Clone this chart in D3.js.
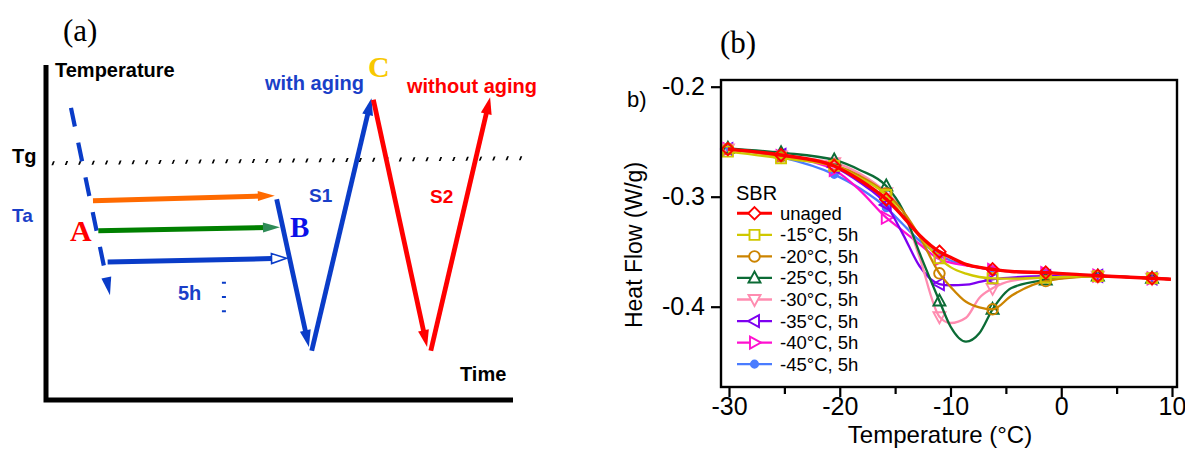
<!DOCTYPE html>
<html><head><meta charset="utf-8">
<script src="https://cdn.jsdelivr.net/npm/d3@7"></script>
<style>body{margin:0;background:#fff}svg{display:block}</style>
</head><body>
<svg id="c" width="1185" height="450"></svg>
<script>
// ================= Panel (b) data =================
const temps = [-30.1,-25.3,-20.5,-18.2,-15.8,-14.3,-12.8,-11.0,-10.0,-8.6,-7.4,-6.2,-4.5,-1.4,3.3,8.2,9.9];
const markerTemps = [-30.1,-25.3,-20.5,-15.8,-11.0,-6.2,-1.4,3.3,8.2];
const seriesNames = ["unaged","-15°C, 5h","-20°C, 5h","-25°C, 5h","-30°C, 5h","-35°C, 5h","-40°C, 5h","-45°C, 5h"];
const seriesColors = ["#ff0000","#cfc800","#cc8400","#0b6b35","#ff8cb0","#7d00f0","#ff10d0","#4a7cff"];
const seriesSymbols = ["diamond","square","circle","triUp","triDown","triLeft","triRight","dot"];
const unaged  = [-0.2567,-0.2621,-0.2721,-0.2848,-0.3024,-0.3180,-0.3350,-0.3500,-0.3551,-0.3615,-0.3642,-0.3660,-0.3680,-0.3690,-0.3718,-0.3742,-0.3750];
const aged15  = [-0.2590,-0.2650,-0.2720,-0.2830,-0.2985,-0.3170,-0.3360,-0.3560,-0.3640,-0.3700,-0.3730,-0.3742,-0.3745,-0.3735,-0.3722,-0.3742,-0.3750];
const aged20  = [-0.2567,-0.2630,-0.2710,-0.2810,-0.2970,-0.3130,-0.3360,-0.3697,-0.3818,-0.3955,-0.4006,-0.4024,-0.3900,-0.3767,-0.3725,-0.3742,-0.3750];
const aged25  = [-0.2560,-0.2600,-0.2666,-0.2757,-0.2903,-0.3120,-0.3510,-0.3948,-0.4180,-0.4318,-0.4242,-0.4024,-0.3830,-0.3757,-0.3722,-0.3742,-0.3750];
const aged30  = [-0.2567,-0.2630,-0.2690,-0.2790,-0.2964,-0.3130,-0.3550,-0.4091,-0.4148,-0.4100,-0.3920,-0.3833,-0.3765,-0.3735,-0.3722,-0.3742,-0.3750];
const aged35  = [-0.2567,-0.2620,-0.2730,-0.2870,-0.3075,-0.3340,-0.3630,-0.3794,-0.3805,-0.3800,-0.3775,-0.3751,-0.3735,-0.3722,-0.3720,-0.3742,-0.3750];
const aged40  = [-0.2567,-0.2630,-0.2757,-0.2940,-0.3191,-0.3310,-0.3430,-0.3569,-0.3600,-0.3625,-0.3645,-0.3665,-0.3680,-0.3695,-0.3718,-0.3742,-0.3750];
const aged45  = [-0.2567,-0.2640,-0.2797,-0.2924,-0.3100,-0.3250,-0.3400,-0.3530,-0.3580,-0.3620,-0.3645,-0.3665,-0.3680,-0.3692,-0.3718,-0.3742,-0.3750];
const seriesValues = [unaged,aged15,aged20,aged25,aged30,aged35,aged40,aged45];
const xTicks = [-30,-25,-20,-15,-10,-5,0,5,10];
const xTickLabels = ["-30","","-20","","-10","","0","","10"];
const yTicks = [-0.2,-0.3,-0.4];
const yTickLabels = ["-0.2","-0.3","-0.4"];

// ================= Panel (a) schematic data (time 0..100, temperature 0..100) =================
const coolingLine = [[5.35,87.2],[13.7,31.3]];
const tgLine = [[0.9,70.7],[102.6,72.2]];
const agingArrows = [
  {color:"#ff6a00", head:"#ff6a00", open:false, pts:[[10.06,59.5],[49.0,61.0]]},
  {color:"#008000", head:"#2e8b57", open:false, pts:[[11.2,50.5],[50.1,51.6]]},
  {color:"#0a3cc8", head:"#ffffff", open:true,  pts:[[13.2,41.2],[51.5,42.3]]}
];
const scanS1 = [[[49.4,59.9],[56.3,15.8]],[[56.9,14.7],[69.7,90.1]]];
const scanS2 = [[[70.1,89.6],[81.6,15.8]],[[82.4,14.7],[95.1,90.4]]];
const fiveHourMarks = [[38.1,35.3],[38.1,25.9]];

// ================= Drawing =================
const svg = d3.select("#c");
const SANS = "'Liberation Sans', Arial, sans-serif";
const SERIF = "'Liberation Serif', 'Times New Roman', serif";

function arrow(g, p0, p1, o) {
  const dx = p1[0]-p0[0], dy = p1[1]-p0[1], L = Math.hypot(dx,dy);
  const ux = dx/L, uy = dy/L, nx = -uy, ny = ux;
  const hl = o.headLen, hw = o.headW/2;
  const bx = p1[0]-ux*hl, by = p1[1]-uy*hl;
  const endShort = o.open ? hl : hl*0.7;
  g.append("line").attr("x1",p0[0]).attr("y1",p0[1])
    .attr("x2",p1[0]-ux*endShort).attr("y2",p1[1]-uy*endShort)
    .attr("stroke",o.color).attr("stroke-width",o.width)
    .attr("stroke-dasharray",o.dash||null);
  g.append("path")
    .attr("d",`M${p1[0]},${p1[1]}L${bx+nx*hw},${by+ny*hw}L${bx-nx*hw},${by-ny*hw}Z`)
    .attr("fill",o.headFill).attr("stroke",o.headStroke||"none").attr("stroke-width",o.headStrokeW||0);
}

// ---------- Panel (a) ----------
const xa = d3.scaleLinear().domain([0,100]).range([46,513]);
const ya = d3.scaleLinear().domain([0,100]).range([400,65]);
const pa = p => [xa(p[0]), ya(p[1])];
const ga = svg.append("g");

ga.append("path")
  .attr("d",d3.line()([[xa(0),ya(100)],[xa(0),ya(0)],[xa(100),ya(0)]]))
  .attr("fill","none").attr("stroke","#000").attr("stroke-width",5).attr("stroke-linejoin","miter");

// Tg dotted line (small slanted ticks)
const t0 = pa(tgLine[0]), t1 = pa(tgLine[1]);
ga.append("g").attr("transform",`translate(0,${t0[1]}) skewX(-22)`)
  .append("line").attr("x1",t0[0]+2).attr("y1",0).attr("x2",t1[0]).attr("y2",t1[1]-t0[1])
  .attr("stroke","#000").attr("stroke-width",4).attr("stroke-dasharray","1.8,11.5");

// cooling dashed line
arrow(ga, pa(coolingLine[0]), pa(coolingLine[1]),
  {color:"#0a3cc8", width:4.2, dash:"19,16.5", headLen:18, headW:10, headFill:"#0a3cc8"});

// aging arrows
agingArrows.forEach(a => {
  arrow(ga, pa(a.pts[0]), pa(a.pts[1]),
    {color:a.color, width:5, headLen:a.open?15:17, headW:10, open:a.open,
     headFill:a.head, headStroke:a.open?a.color:null, headStrokeW:1.6});
});

// S1 and S2 scans
scanS1.forEach(s => arrow(ga, pa(s[0]), pa(s[1]), {color:"#0a3cc8", width:4.8, headLen:17, headW:11, headFill:"#0a3cc8"}));
scanS2.forEach(s => arrow(ga, pa(s[0]), pa(s[1]), {color:"#ff0000", width:4.8, headLen:17, headW:11, headFill:"#ff0000"}));

// 5h small dashes
ga.append("line").attr("x1",xa(fiveHourMarks[0][0])).attr("y1",ya(fiveHourMarks[0][1]))
  .attr("x2",xa(fiveHourMarks[1][0])).attr("y2",ya(fiveHourMarks[1][1]))
  .attr("stroke","#0a3cc8").attr("stroke-width",4).attr("stroke-dasharray","2,12.3");

const labelsA = [
  {t:"(a)", x:63, y:41, f:SERIF, s:31, w:"normal", c:"#000"},
  {t:"Temperature", x:55, y:77, f:SANS, s:20, w:"bold", c:"#000"},
  {t:"Tg", x:12, y:163, f:SANS, s:20, w:"bold", c:"#000"},
  {t:"Ta", x:12, y:222, f:SANS, s:19, w:"bold", c:"#1a3fc8"},
  {t:"with aging", x:265, y:90, f:SANS, s:20, w:"bold", c:"#1a3fc8"},
  {t:"C", x:368, y:77, f:SERIF, s:30, w:"bold", c:"#f8c800"},
  {t:"without aging", x:407, y:93, f:SANS, s:20, w:"bold", c:"#ff0000"},
  {t:"S1", x:309, y:202, f:SANS, s:19, w:"bold", c:"#1a3fc8"},
  {t:"S2", x:430, y:203, f:SANS, s:19, w:"bold", c:"#ff0000"},
  {t:"A", x:70, y:241, f:SERIF, s:30, w:"bold", c:"#ff0000"},
  {t:"B", x:290, y:237, f:SERIF, s:29, w:"bold", c:"#0a10e8"},
  {t:"5h", x:178, y:300, f:SANS, s:20, w:"bold", c:"#1a3fc8"},
  {t:"Time", x:460, y:381, f:SANS, s:20, w:"bold", c:"#000"}
];
ga.selectAll("text.la").data(labelsA).join("text").attr("class","la")
  .attr("x",d=>d.x).attr("y",d=>d.y).attr("font-family",d=>d.f).attr("font-size",d=>d.s)
  .attr("font-weight",d=>d.w).attr("fill",d=>d.c).text(d=>d.t);

// ---------- Panel (b) ----------
const x = d3.scaleLinear().domain([-30,10]).range([729,1172]);
const y = d3.scaleLinear().domain([-0.2,-0.4]).range([86.7,306.7]);
const frame = {l:721, r:1177, t:80, b:387};
const gb = svg.append("g");

function symbolPath(type, cx, cy) {
  const s = 6.2;
  switch(type) {
    case "diamond": return `M${cx},${cy-s}L${cx+s},${cy}L${cx},${cy+s}L${cx-s},${cy}Z`;
    case "square": return `M${cx-5},${cy-5}h10v10h-10Z`;
    case "circle": return `M${cx+5.3},${cy}A5.3,5.3 0 1,1 ${cx-5.3},${cy}A5.3,5.3 0 1,1 ${cx+5.3},${cy}Z`;
    case "triUp": return `M${cx},${cy-6.5}L${cx+6},${cy+4.5}L${cx-6},${cy+4.5}Z`;
    case "triDown": return `M${cx},${cy+6.5}L${cx+6},${cy-4.5}L${cx-6},${cy-4.5}Z`;
    case "triLeft": return `M${cx-6.5},${cy}L${cx+4.5},${cy-6}L${cx+4.5},${cy+6}Z`;
    case "triRight": return `M${cx+6.5},${cy}L${cx-4.5},${cy-6}L${cx-4.5},${cy+6}Z`;
    case "dot": return `M${cx+3.6},${cy}A3.6,3.6 0 1,1 ${cx-3.6},${cy}A3.6,3.6 0 1,1 ${cx+3.6},${cy}Z`;
  }
}

const line = d3.line().x(d=>x(d[0])).y(d=>y(d[1])).curve(d3.curveMonotoneX);
const order = [7,6,5,4,3,2,1,0];
order.forEach(i => {
  const pts = temps.map((t,k)=>[t, seriesValues[i][k]]);
  const col = seriesColors[i];
  gb.append("path").attr("d",line(pts)).attr("fill","none").attr("stroke",col)
    .attr("stroke-width", i===0 ? 3.4 : 2.3);
  const mk = pts.filter(p => markerTemps.includes(p[0]));
  gb.selectAll(null).data(mk).join("path")
    .attr("d",p=>symbolPath(seriesSymbols[i], x(p[0]), y(p[1])))
    .attr("fill", seriesSymbols[i]==="dot" ? col : "none")
    .attr("stroke",col).attr("stroke-width",1.9);
});

// frame
gb.append("rect").attr("x",frame.l).attr("y",frame.t).attr("width",frame.r-frame.l).attr("height",frame.b-frame.t)
  .attr("fill","none").attr("stroke","#000").attr("stroke-width",2.4);

// axes
const yAxis = d3.axisLeft(y).tickValues(yTicks).tickSize(10).tickPadding(6)
  .tickFormat((d,i)=>yTickLabels[i]);
const gy = gb.append("g").attr("transform",`translate(${frame.l},0)`).call(yAxis);
gy.select(".domain").remove();
gy.selectAll("line").attr("stroke","#000").attr("stroke-width",2.2);
gy.selectAll("text").attr("font-family",SANS).attr("font-size",25).attr("fill","#000");

const xAxis = d3.axisBottom(x).tickValues(xTicks).tickSize(0).tickPadding(10)
  .tickFormat((d,i)=>xTickLabels[i]);
const gx = gb.append("g").attr("transform",`translate(0,${frame.b})`).call(xAxis);
gx.select(".domain").remove();
gx.selectAll(".tick line").attr("y2",(d,i)=> xTickLabels[i] ? 10 : 7).attr("stroke","#000").attr("stroke-width",2.2);
gx.selectAll("text").attr("font-family",SANS).attr("font-size",25).attr("fill","#000");

gb.append("text").attr("x",940).attr("y",443).attr("text-anchor","middle")
  .attr("font-family",SANS).attr("font-size",24).text("Temperature (°C)");
gb.append("text").attr("transform","translate(642,245) rotate(-90)").attr("text-anchor","middle")
  .attr("font-family",SANS).attr("font-size",23).text("Heat Flow (W/g)");
gb.append("text").attr("x",627).attr("y",107).attr("font-family",SANS).attr("font-size",22).text("b)");
gb.append("text").attr("x",720).attr("y",53).attr("font-family",SERIF).attr("font-size",31).text("(b)");

// legend
const lg = gb.append("g");
lg.append("text").attr("x",736).attr("y",200).attr("font-family",SANS).attr("font-size",20).text("SBR");
seriesNames.forEach((n,i) => {
  const cy = 213.3 + i*21.55, col = seriesColors[i];
  lg.append("line").attr("x1",737).attr("x2",772).attr("y1",cy).attr("y2",cy)
    .attr("stroke",col).attr("stroke-width", i===0 ? 3 : 2.3);
  lg.append("path").attr("d",symbolPath(seriesSymbols[i],754.5,cy))
    .attr("fill", seriesSymbols[i]==="dot" ? col : "#fff").attr("stroke",col).attr("stroke-width",1.9);
  lg.append("text").attr("x",780).attr("y",cy+6.5).attr("font-family",SANS).attr("font-size",18.5).text(n);
});
</script>
</body></html>
